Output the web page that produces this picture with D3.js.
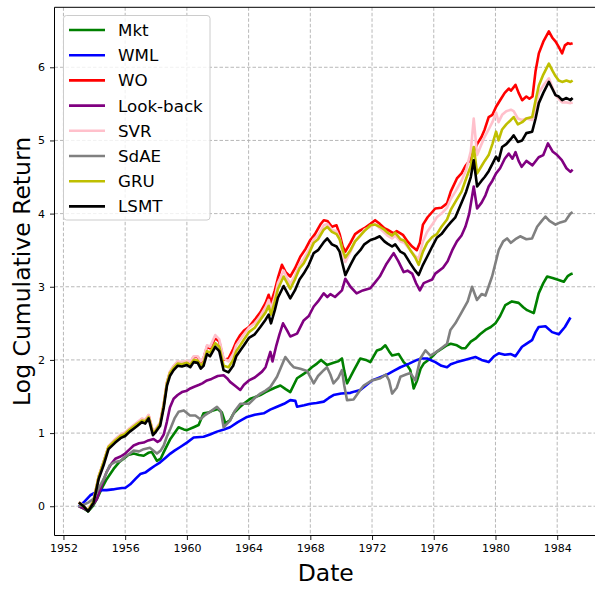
<!DOCTYPE html>
<html><head><meta charset="utf-8">
<script src="https://cdn.jsdelivr.net/npm/d3@7"></script>
<style>body{margin:0;background:#fff}svg{display:block;font-family:"DejaVu Sans",sans-serif}</style>
</head><body><svg id="c" width="595" height="590"></svg>
<script>
const names = ["Mkt","WML","WO","Look-back","SVR","SdAE","GRU","LSMT"];
const colors = ["#008000","#0000ff","#ff0000","#800080","#ffc0cb","#808080","#bfbf00","#000000"];
const xTicks = [1952,1956,1960,1964,1968,1972,1976,1980,1984];
const yTicks = [0,1,2,3,4,5,6];

const mkt = [[1953.0,0.0],[1953.3,-0.03],[1953.6,-0.07],[1953.9,0.0],[1954.17,0.10],[1954.5,0.25],[1954.8,0.37],[1955.25,0.51],[1955.6,0.6],[1955.9,0.65],[1956.2,0.7],[1956.55,0.72],[1956.9,0.7],[1957.2,0.69],[1957.5,0.73],[1957.73,0.74],[1958.06,0.62],[1958.3,0.65],[1958.5,0.74],[1958.93,0.92],[1959.2,1.0],[1959.46,1.08],[1959.8,1.05],[1960.0,1.04],[1960.44,1.08],[1960.76,1.11],[1961.08,1.27],[1961.4,1.28],[1961.7,1.31],[1962.0,1.33],[1962.27,1.28],[1962.5,1.13],[1962.8,1.18],[1963.03,1.27],[1963.4,1.35],[1963.68,1.40],[1964.11,1.47],[1964.4,1.49],[1964.76,1.52],[1965.1,1.56],[1965.41,1.59],[1965.7,1.62],[1966.06,1.65],[1966.4,1.6],[1966.7,1.56],[1967.14,1.75],[1967.5,1.8],[1967.79,1.84],[1968.1,1.9],[1968.43,1.95],[1968.7,2.0],[1969.08,1.93],[1969.5,1.96],[1969.8,1.98],[1970.05,2.02],[1970.2,1.85],[1970.38,1.68],[1970.8,1.85],[1971.24,2.02],[1971.6,2.0],[1971.89,1.97],[1972.32,2.13],[1972.6,2.15],[1972.86,2.20],[1973.1,2.12],[1973.3,2.06],[1973.73,2.08],[1974.05,1.97],[1974.3,1.92],[1974.48,1.86],[1974.7,1.61],[1974.92,1.72],[1975.15,1.88],[1975.35,1.95],[1975.78,2.02],[1976.2,2.11],[1976.5,2.15],[1976.86,2.20],[1977.1,2.22],[1977.5,2.2],[1977.8,2.16],[1978.05,2.16],[1978.4,2.25],[1978.7,2.29],[1979.0,2.35],[1979.35,2.41],[1979.7,2.45],[1980.0,2.50],[1980.3,2.6],[1980.64,2.75],[1981.07,2.80],[1981.5,2.78],[1981.8,2.72],[1982.05,2.68],[1982.48,2.64],[1982.8,2.91],[1983.1,3.05],[1983.35,3.14],[1983.7,3.12],[1984.0,3.1],[1984.43,3.07],[1984.7,3.15],[1984.86,3.17],[1985.0,3.18]];

const wml = [[1953.0,0.0],[1953.3,0.05],[1953.74,0.15],[1954.17,0.2],[1954.5,0.22],[1954.8,0.22],[1955.2,0.23],[1955.46,0.24],[1955.8,0.25],[1956.0,0.25],[1956.33,0.3],[1956.7,0.38],[1956.98,0.44],[1957.3,0.46],[1957.63,0.51],[1957.9,0.55],[1958.27,0.60],[1958.6,0.66],[1958.93,0.72],[1959.2,0.76],[1959.57,0.81],[1960.0,0.87],[1960.44,0.94],[1961.08,0.95],[1961.5,0.98],[1961.95,1.02],[1962.4,1.05],[1962.8,1.08],[1963.3,1.15],[1963.9,1.22],[1964.4,1.25],[1964.98,1.27],[1965.4,1.32],[1965.84,1.36],[1966.3,1.4],[1966.7,1.45],[1967.03,1.44],[1967.14,1.36],[1967.6,1.38],[1968.0,1.40],[1968.4,1.41],[1968.87,1.43],[1969.2,1.48],[1969.5,1.52],[1970.0,1.54],[1970.6,1.55],[1970.9,1.57],[1971.24,1.59],[1971.6,1.65],[1972.0,1.72],[1972.5,1.76],[1972.97,1.80],[1973.4,1.85],[1973.84,1.90],[1974.4,1.95],[1974.92,2.0],[1975.2,2.02],[1975.57,2.02],[1976.1,1.97],[1976.5,1.92],[1976.86,1.90],[1977.1,1.94],[1977.5,1.97],[1978.0,2.0],[1978.7,2.04],[1979.1,2.0],[1979.56,1.97],[1979.9,2.05],[1980.21,2.09],[1980.6,2.07],[1981.0,2.08],[1981.29,2.05],[1981.72,2.18],[1982.0,2.22],[1982.37,2.27],[1982.6,2.38],[1982.8,2.45],[1983.24,2.46],[1983.67,2.38],[1984.1,2.35],[1984.5,2.45],[1984.86,2.58]];

const wo = [[1953.0,0.05],[1953.3,0.0],[1953.6,-0.06],[1953.95,0.07],[1954.28,0.4],[1954.6,0.6],[1954.92,0.81],[1955.36,0.91],[1955.7,0.97],[1956.0,1.0],[1956.3,1.06],[1956.55,1.1],[1956.8,1.14],[1957.09,1.19],[1957.3,1.17],[1957.52,1.24],[1957.8,1.01],[1958.0,1.05],[1958.27,1.14],[1958.5,1.39],[1958.71,1.69],[1958.9,1.83],[1959.14,1.91],[1959.4,1.97],[1959.68,1.96],[1960.0,1.98],[1960.22,1.96],[1960.44,2.04],[1960.7,2.04],[1960.9,1.97],[1961.08,2.02],[1961.3,2.18],[1961.5,2.16],[1961.84,2.3],[1962.1,2.25],[1962.38,2.0],[1962.7,2.02],[1963.0,2.15],[1963.2,2.25],[1963.46,2.34],[1963.7,2.4],[1964.02,2.45],[1964.4,2.55],[1964.76,2.65],[1965.1,2.78],[1965.3,2.89],[1965.45,2.78],[1965.7,2.95],[1965.9,3.12],[1966.16,3.30],[1966.4,3.2],[1966.7,3.14],[1967.0,3.25],[1967.35,3.41],[1967.7,3.52],[1968.0,3.64],[1968.3,3.72],[1968.65,3.85],[1968.87,3.91],[1969.1,3.9],[1969.4,3.82],[1969.7,3.84],[1969.9,3.72],[1970.1,3.55],[1970.27,3.48],[1970.6,3.6],[1970.9,3.72],[1971.24,3.77],[1971.5,3.8],[1971.9,3.86],[1972.2,3.91],[1972.5,3.86],[1972.8,3.8],[1973.0,3.78],[1973.4,3.73],[1973.6,3.76],[1974.0,3.71],[1974.3,3.62],[1974.6,3.55],[1974.9,3.5],[1975.1,3.6],[1975.3,3.85],[1975.6,3.95],[1976.1,4.07],[1976.5,4.08],[1976.86,4.14],[1977.1,4.3],[1977.5,4.48],[1977.8,4.55],[1978.05,4.65],[1978.3,4.72],[1978.59,4.85],[1978.81,4.95],[1979.1,5.05],[1979.3,5.15],[1979.56,5.32],[1979.8,5.35],[1980.04,5.46],[1980.3,5.55],[1980.6,5.65],[1980.86,5.71],[1981.0,5.68],[1981.3,5.76],[1981.5,5.65],[1981.73,5.55],[1982.0,5.6],[1982.2,5.57],[1982.4,5.6],[1982.6,5.95],[1982.81,6.19],[1983.1,6.35],[1983.46,6.49],[1983.7,6.4],[1983.9,6.35],[1984.1,6.28],[1984.32,6.19],[1984.5,6.3],[1984.7,6.33],[1984.86,6.32],[1985.0,6.33]];

const lookback = [[1953.0,0.0],[1953.3,-0.03],[1953.6,-0.06],[1953.9,0.02],[1954.17,0.10],[1954.5,0.3],[1954.8,0.47],[1955.1,0.58],[1955.36,0.65],[1955.7,0.68],[1956.0,0.72],[1956.3,0.78],[1956.55,0.83],[1956.9,0.86],[1957.2,0.87],[1957.5,0.9],[1957.84,0.92],[1958.1,0.88],[1958.27,0.9],[1958.5,0.98],[1958.7,1.15],[1958.9,1.35],[1959.14,1.47],[1959.4,1.52],[1959.68,1.56],[1960.0,1.58],[1960.22,1.61],[1960.44,1.63],[1960.8,1.66],[1961.0,1.68],[1961.3,1.72],[1961.6,1.74],[1962.0,1.78],[1962.38,1.79],[1962.6,1.75],[1962.8,1.7],[1963.1,1.65],[1963.46,1.59],[1963.7,1.66],[1964.02,1.72],[1964.4,1.76],[1964.87,1.84],[1965.1,1.9],[1965.41,2.11],[1965.55,1.98],[1965.8,2.2],[1966.0,2.35],[1966.23,2.50],[1966.5,2.4],[1966.7,2.32],[1967.14,2.36],[1967.57,2.54],[1967.9,2.6],[1968.22,2.73],[1968.5,2.8],[1968.87,2.91],[1969.1,2.86],[1969.3,2.90],[1969.6,2.86],[1970.05,2.95],[1970.27,3.11],[1970.6,3.0],[1971.0,2.91],[1971.4,2.95],[1971.89,2.98],[1972.2,3.06],[1972.5,3.14],[1972.9,3.3],[1973.4,3.46],[1973.7,3.35],[1974.05,3.20],[1974.3,3.22],[1974.6,3.18],[1974.85,3.05],[1975.1,2.95],[1975.35,3.05],[1975.57,3.07],[1975.9,3.1],[1976.1,3.18],[1976.6,3.26],[1976.9,3.35],[1977.2,3.50],[1977.5,3.62],[1977.8,3.7],[1978.05,3.82],[1978.3,4.0],[1978.59,4.37],[1978.81,4.07],[1979.1,4.15],[1979.35,4.25],[1979.56,4.37],[1979.8,4.45],[1980.04,4.55],[1980.3,4.62],[1980.6,4.75],[1980.86,4.82],[1981.1,4.75],[1981.3,4.84],[1981.5,4.72],[1981.7,4.64],[1982.0,4.72],[1982.4,4.66],[1982.8,4.77],[1983.1,4.8],[1983.4,4.96],[1983.7,4.85],[1984.0,4.8],[1984.3,4.73],[1984.6,4.62],[1984.86,4.57],[1985.0,4.6]];

const svr = [[1953.0,0.06],[1953.3,0.01],[1953.6,-0.05],[1953.95,0.08],[1954.28,0.41],[1954.6,0.61],[1954.92,0.82],[1955.36,0.92],[1955.7,0.98],[1956.0,1.01],[1956.3,1.07],[1956.55,1.11],[1956.8,1.15],[1957.09,1.2],[1957.3,1.18],[1957.52,1.25],[1957.8,1.02],[1958.0,1.06],[1958.27,1.15],[1958.5,1.4],[1958.71,1.7],[1958.9,1.84],[1959.14,1.92],[1959.4,1.98],[1959.68,1.97],[1960.0,1.99],[1960.22,1.97],[1960.44,2.05],[1960.7,2.05],[1960.9,1.98],[1961.08,2.03],[1961.3,2.2],[1961.5,2.18],[1961.84,2.34],[1962.1,2.28],[1962.38,2.02],[1962.7,1.98],[1963.0,2.08],[1963.2,2.2],[1963.46,2.28],[1963.7,2.35],[1964.02,2.44],[1964.4,2.5],[1964.76,2.6],[1965.1,2.72],[1965.3,2.82],[1965.45,2.7],[1965.7,2.86],[1965.9,3.05],[1966.27,3.22],[1966.5,3.12],[1966.7,3.04],[1967.0,3.15],[1967.3,3.3],[1967.57,3.38],[1967.9,3.5],[1968.22,3.65],[1968.5,3.7],[1968.87,3.84],[1969.1,3.86],[1969.4,3.78],[1969.7,3.76],[1969.9,3.66],[1970.1,3.45],[1970.27,3.34],[1970.6,3.48],[1970.9,3.62],[1971.24,3.7],[1971.5,3.78],[1971.9,3.82],[1972.2,3.86],[1972.5,3.8],[1972.8,3.74],[1973.0,3.7],[1973.3,3.66],[1973.5,3.7],[1973.84,3.62],[1974.1,3.6],[1974.48,3.5],[1974.8,3.42],[1975.02,3.38],[1975.3,3.62],[1975.57,3.75],[1975.9,3.85],[1976.2,3.95],[1976.5,4.0],[1976.86,4.08],[1977.1,4.2],[1977.4,4.3],[1977.8,4.45],[1978.1,4.6],[1978.4,4.85],[1978.59,5.3],[1978.81,4.8],[1979.1,4.95],[1979.3,5.05],[1979.56,5.15],[1979.8,5.25],[1980.04,5.38],[1980.2,5.25],[1980.43,5.35],[1980.7,5.4],[1981.0,5.42],[1981.18,5.4],[1981.45,5.3],[1981.73,5.28],[1982.0,5.3],[1982.38,5.28],[1982.6,5.45],[1982.81,5.65],[1983.1,5.75],[1983.46,5.85],[1983.7,5.72],[1983.89,5.62],[1984.1,5.57],[1984.32,5.52],[1984.6,5.52],[1984.86,5.51],[1985.0,5.52]];

const sdae = [[1953.0,0.0],[1953.3,0.02],[1953.6,0.05],[1953.95,0.1],[1954.3,0.25],[1954.6,0.37],[1955.0,0.56],[1955.3,0.6],[1955.7,0.62],[1956.0,0.68],[1956.3,0.72],[1956.55,0.76],[1956.9,0.75],[1957.2,0.78],[1957.6,0.8],[1958.06,0.72],[1958.3,0.76],[1958.5,0.83],[1958.7,0.95],[1958.93,1.06],[1959.2,1.2],[1959.46,1.29],[1959.8,1.31],[1960.2,1.24],[1960.55,1.24],[1960.87,1.19],[1961.2,1.25],[1961.5,1.29],[1961.95,1.36],[1962.2,1.3],[1962.38,1.08],[1962.8,1.17],[1963.1,1.3],[1963.46,1.40],[1964.02,1.4],[1964.4,1.48],[1964.76,1.54],[1965.1,1.58],[1965.41,1.63],[1965.84,1.77],[1966.1,1.9],[1966.38,2.04],[1966.7,1.95],[1966.92,1.90],[1967.35,1.88],[1967.79,1.85],[1968.22,1.68],[1968.5,1.78],[1968.87,1.86],[1969.08,1.90],[1969.3,1.8],[1969.5,1.68],[1969.8,1.75],[1970.05,1.86],[1970.2,1.65],[1970.38,1.45],[1970.8,1.46],[1971.2,1.58],[1971.46,1.65],[1972.0,1.72],[1972.54,1.75],[1972.9,1.8],[1973.1,1.72],[1973.3,1.54],[1973.6,1.62],[1973.84,1.77],[1974.2,1.8],[1974.48,1.82],[1974.81,1.72],[1975.13,2.02],[1975.46,2.13],[1975.78,2.06],[1976.1,2.1],[1976.43,2.15],[1976.86,2.22],[1977.08,2.41],[1977.4,2.5],[1977.83,2.66],[1978.2,2.8],[1978.48,3.0],[1978.8,2.82],[1979.1,2.9],[1979.35,2.88],[1979.78,3.14],[1980.21,3.50],[1980.5,3.62],[1980.75,3.66],[1981.0,3.6],[1981.29,3.65],[1981.6,3.69],[1982.0,3.65],[1982.37,3.66],[1982.7,3.82],[1983.0,3.9],[1983.24,3.96],[1983.5,3.9],[1983.89,3.85],[1984.2,3.88],[1984.53,3.9],[1984.86,4.0],[1985.0,4.02]];

const gru = [[1953.0,0.05],[1953.3,0.0],[1953.6,-0.06],[1953.95,0.07],[1954.28,0.4],[1954.6,0.6],[1954.92,0.81],[1955.36,0.9],[1955.7,0.96],[1956.0,0.99],[1956.3,1.05],[1956.55,1.09],[1956.8,1.13],[1957.09,1.17],[1957.3,1.16],[1957.52,1.22],[1957.8,1.0],[1958.0,1.04],[1958.27,1.13],[1958.5,1.38],[1958.71,1.68],[1958.9,1.82],[1959.14,1.89],[1959.4,1.95],[1959.68,1.94],[1960.0,1.96],[1960.22,1.93],[1960.44,2.0],[1960.7,1.99],[1960.9,1.92],[1961.08,1.96],[1961.3,2.12],[1961.5,2.1],[1961.84,2.23],[1962.1,2.18],[1962.38,1.92],[1962.7,1.9],[1963.0,2.0],[1963.2,2.12],[1963.46,2.2],[1963.7,2.28],[1964.02,2.38],[1964.4,2.44],[1964.76,2.55],[1965.1,2.65],[1965.3,2.74],[1965.45,2.62],[1965.7,2.8],[1965.9,2.97],[1966.27,3.14],[1966.5,3.05],[1966.7,2.97],[1967.0,3.1],[1967.3,3.25],[1967.57,3.32],[1967.9,3.45],[1968.22,3.6],[1968.5,3.65],[1968.87,3.78],[1969.1,3.82],[1969.4,3.75],[1969.7,3.72],[1969.9,3.65],[1970.1,3.5],[1970.27,3.4],[1970.6,3.5],[1970.9,3.62],[1971.24,3.7],[1971.5,3.76],[1971.9,3.84],[1972.2,3.85],[1972.5,3.82],[1972.8,3.78],[1973.0,3.74],[1973.3,3.7],[1973.5,3.74],[1973.84,3.65],[1974.1,3.63],[1974.48,3.5],[1974.8,3.4],[1975.02,3.3],[1975.3,3.48],[1975.57,3.6],[1975.9,3.68],[1976.2,3.72],[1976.5,3.82],[1976.86,3.92],[1977.1,4.05],[1977.4,4.16],[1977.8,4.3],[1978.1,4.48],[1978.4,4.65],[1978.59,4.91],[1978.81,4.55],[1979.1,4.65],[1979.3,4.72],[1979.56,4.8],[1979.8,4.95],[1980.04,5.12],[1980.2,5.0],[1980.43,5.15],[1980.7,5.22],[1981.0,5.28],[1981.18,5.32],[1981.45,5.22],[1981.73,5.25],[1982.0,5.3],[1982.38,5.32],[1982.6,5.55],[1982.81,5.75],[1983.1,5.9],[1983.46,6.05],[1983.7,5.95],[1983.89,5.88],[1984.1,5.82],[1984.32,5.8],[1984.6,5.82],[1984.86,5.8],[1985.0,5.82]];

const lsmt = [[1953.0,0.05],[1953.3,0.0],[1953.6,-0.07],[1953.95,0.05],[1954.28,0.37],[1954.6,0.56],[1954.92,0.78],[1955.36,0.87],[1955.7,0.93],[1956.0,0.96],[1956.3,1.02],[1956.55,1.06],[1956.8,1.1],[1957.09,1.15],[1957.3,1.13],[1957.52,1.2],[1957.8,0.97],[1958.0,1.02],[1958.27,1.1],[1958.5,1.35],[1958.71,1.65],[1958.9,1.78],[1959.14,1.86],[1959.4,1.92],[1959.68,1.91],[1960.0,1.93],[1960.22,1.90],[1960.44,1.97],[1960.7,1.96],[1960.9,1.88],[1961.08,1.92],[1961.3,2.08],[1961.5,2.05],[1961.84,2.18],[1962.1,2.12],[1962.38,1.86],[1962.7,1.83],[1963.0,1.92],[1963.2,2.05],[1963.46,2.13],[1963.7,2.2],[1964.02,2.30],[1964.4,2.35],[1964.76,2.45],[1965.1,2.55],[1965.3,2.62],[1965.45,2.5],[1965.7,2.68],[1965.9,2.85],[1966.27,3.01],[1966.5,2.92],[1966.7,2.84],[1967.0,2.95],[1967.3,3.1],[1967.57,3.18],[1967.9,3.3],[1968.22,3.46],[1968.5,3.5],[1968.87,3.61],[1969.1,3.66],[1969.4,3.58],[1969.7,3.55],[1969.9,3.48],[1970.1,3.3],[1970.27,3.16],[1970.6,3.3],[1970.9,3.42],[1971.24,3.50],[1971.5,3.58],[1971.9,3.64],[1972.2,3.66],[1972.5,3.69],[1972.8,3.62],[1973.0,3.59],[1973.3,3.55],[1973.5,3.58],[1973.84,3.48],[1974.1,3.45],[1974.48,3.32],[1974.8,3.22],[1975.02,3.16],[1975.3,3.3],[1975.57,3.41],[1975.9,3.55],[1976.2,3.67],[1976.5,3.72],[1976.86,3.82],[1977.1,3.88],[1977.4,3.95],[1977.8,4.15],[1978.1,4.3],[1978.4,4.5],[1978.59,4.73],[1978.81,4.37],[1979.1,4.45],[1979.3,4.5],[1979.56,4.58],[1979.8,4.68],[1980.04,4.78],[1980.2,4.72],[1980.43,4.91],[1980.7,4.95],[1981.0,5.02],[1981.18,5.07],[1981.45,4.98],[1981.73,5.0],[1982.0,5.1],[1982.38,5.12],[1982.6,5.3],[1982.81,5.51],[1983.1,5.65],[1983.46,5.80],[1983.7,5.7],[1983.89,5.62],[1984.1,5.6],[1984.32,5.55],[1984.6,5.58],[1984.86,5.55],[1985.0,5.58]];

const seriesData = [mkt, wml, wo, lookback, svr, sdae, gru, lsmt];

const M = {left: 54.5, top: 7.3, right: 597, bottom: 535.5};
const svg = d3.select("#c");

const x = d3.scaleLinear().domain([1951.42, 1986.58]).range([M.left, M.right]);
const y = d3.scaleLinear().domain([-0.40, 6.82]).range([M.bottom, M.top]);

// grid
const grid = svg.append("g");
grid.selectAll(".gx").data(xTicks).enter().append("line")
  .attr("x1", d => x(d)).attr("x2", d => x(d)).attr("y1", M.top).attr("y2", M.bottom)
  .attr("stroke", "#b0b0b0").attr("stroke-width", 0.9).attr("stroke-dasharray", "3.5,2");
grid.selectAll(".gy").data(yTicks).enter().append("line")
  .attr("x1", M.left).attr("x2", M.right).attr("y1", d => y(d)).attr("y2", d => y(d))
  .attr("stroke", "#b0b0b0").attr("stroke-width", 0.9).attr("stroke-dasharray", "3.5,2");

// lines
const line = d3.line().x(d => x(d[0])).y(d => y(d[1]));
const lines = svg.append("g");
seriesData.forEach((s, i) => {
  lines.append("path").datum(s).attr("d", line)
    .attr("fill", "none").attr("stroke", colors[i]).attr("stroke-width", 2.6)
    .attr("stroke-linejoin", "round").attr("stroke-linecap", "butt");
});

// axes
const xAxis = d3.axisBottom(x).tickValues(xTicks).tickFormat(d3.format("d")).tickSize(4.5).tickPadding(4);
const yAxis = d3.axisLeft(y).tickValues(yTicks).tickFormat(d3.format("d")).tickSize(4.5).tickPadding(5);
const gx = svg.append("g").attr("transform", `translate(0,${M.bottom})`).call(xAxis);
const gy = svg.append("g").attr("transform", `translate(${M.left},0)`).call(yAxis);
[gx, gy].forEach(g => {
  g.select(".domain").remove();
  g.selectAll("text").attr("font-family", "DejaVu Sans").attr("font-size", 11).attr("fill", "#000");
  g.selectAll("line").attr("stroke", "#000").attr("stroke-width", 0.9);
});

// spines
svg.append("line").attr("x1", M.left).attr("x2", M.left).attr("y1", M.top).attr("y2", M.bottom).attr("stroke", "#000").attr("stroke-width", 1);
svg.append("line").attr("x1", M.left).attr("x2", M.right).attr("y1", M.bottom).attr("y2", M.bottom).attr("stroke", "#000").attr("stroke-width", 1);
svg.append("line").attr("x1", M.left).attr("x2", M.right).attr("y1", M.top).attr("y2", M.top).attr("stroke", "#000").attr("stroke-width", 1);
svg.append("line").attr("x1", M.right).attr("x2", M.right).attr("y1", M.top).attr("y2", M.bottom).attr("stroke", "#000").attr("stroke-width", 1);

// axis labels
svg.append("text").attr("x", (M.left + M.right) / 2).attr("y", 580.5)
  .attr("text-anchor", "middle").attr("font-size", 23.5).attr("fill", "#000").text("Date");
svg.append("text").attr("transform", `translate(30,${(M.top + M.bottom) / 2}) rotate(-90)`)
  .attr("text-anchor", "middle").attr("font-size", 23.5).attr("fill", "#000").text("Log Cumulative Return");

// legend
const lg = svg.append("g");
lg.append("rect").attr("x", 63.5).attr("y", 15.5).attr("width", 146.5).attr("height", 204.5)
  .attr("rx", 3).attr("fill", "#fff").attr("fill-opacity", 0.8).attr("stroke", "#cccccc").attr("stroke-width", 1);
names.forEach((n, i) => {
  const cy = 30 + i * 25.2;
  lg.append("line").attr("x1", 69).attr("x2", 105).attr("y1", cy).attr("y2", cy)
    .attr("stroke", colors[i]).attr("stroke-width", 2.6);
  lg.append("text").attr("x", 118).attr("y", cy + 6).attr("font-size", 16.7).attr("fill", "#000").text(n);
});
</script></body></html>
